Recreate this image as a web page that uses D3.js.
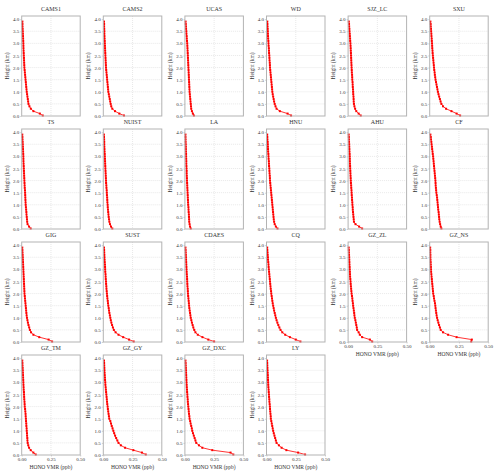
<!DOCTYPE html>
<meta charset="utf-8">
<html>
  <head>
    <style>
      body { margin: 0; background: #fff; }
      text { font-family: "Liberation Serif", "Times New Roman", serif; fill: #333; }
      .grid line { stroke: #d0d0d0; stroke-width: 0.5px; stroke-dasharray: 1,1; }
      .frame { fill: none; stroke: #b3b3b3; stroke-width: 1px; }
      .axis path { display: none; }
      .axis line { stroke: #b3b3b3; stroke-width: 0.6px; }
      .axis text { font-size: 5px; }
    </style>
    <script src="https://d3js.org/d3.v7.min.js"></script>
  </head>
  <body>
    <script>

      var width = 500,
          height = 475;

      // heights of retrieval levels (km)
      var heights = [0.02, 0.1, 0.2, 0.3, 0.4, 0.5, 0.6, 0.7, 0.8, 0.9, 1.0, 1.1, 1.2, 1.3, 1.4, 1.5, 1.6, 1.7, 1.8, 1.9,
                     2.0, 2.1, 2.2, 2.3, 2.4, 2.5, 2.6, 2.7, 2.8, 2.9, 3.0, 3.1, 3.2, 3.3, 3.4, 3.5, 3.6, 3.7, 3.8, 3.9];

      var yTicks = [0.0, 0.5, 1.0, 1.5, 2.0, 2.5, 3.0, 3.5, 4.0],
          xTicks = [0.00, 0.25, 0.50];

      var sites = ["CAMS1", "CAMS2", "UCAS", "WD", "SJZ_LC", "SXU",
                   "TS", "NUIST", "LA", "HNU", "AHU", "CF",
                   "GIG", "SUST", "CDAES", "CQ", "GZ_ZL", "GZ_NS",
                   "GZ_TM", "GZ_GY", "GZ_DXC", "LY"];

      // HONO VMR (ppb) at each height
      var CAMS1 = [0.180, 0.155, 0.100, 0.078, 0.066, 0.058, 0.055, 0.052, 0.049, 0.046, 0.043, 0.041, 0.039, 0.037, 0.035, 0.033, 0.031, 0.029, 0.027, 0.025, 0.023, 0.022, 0.021, 0.020, 0.019, 0.018, 0.017, 0.016, 0.015, 0.0145, 0.014, 0.013, 0.012, 0.011, 0.010, 0.009, 0.008, 0.007, 0.0065, 0.006];
      var CAMS2 = [0.177, 0.137, 0.100, 0.077, 0.068, 0.063, 0.059, 0.055, 0.051, 0.047, 0.043, 0.041, 0.039, 0.037, 0.035, 0.033, 0.031, 0.029, 0.027, 0.025, 0.023, 0.022, 0.021, 0.020, 0.019, 0.018, 0.017, 0.016, 0.015, 0.014, 0.013, 0.012, 0.011, 0.010, 0.009, 0.009, 0.008, 0.007, 0.007, 0.006];
      var UCAS = [0.077, 0.068, 0.060, 0.054, 0.052, 0.050, 0.048, 0.046, 0.044, 0.042, 0.040, 0.039, 0.038, 0.037, 0.036, 0.035, 0.034, 0.033, 0.032, 0.031, 0.030, 0.029, 0.028, 0.027, 0.026, 0.025, 0.024, 0.023, 0.022, 0.021, 0.020, 0.018, 0.016, 0.015, 0.013, 0.012, 0.010, 0.009, 0.007, 0.006];
      var WD = [0.210, 0.180, 0.114, 0.086, 0.077, 0.070, 0.065, 0.061, 0.057, 0.053, 0.050, 0.048, 0.046, 0.044, 0.042, 0.040, 0.038, 0.036, 0.034, 0.032, 0.030, 0.029, 0.028, 0.026, 0.025, 0.024, 0.022, 0.021, 0.020, 0.018, 0.017, 0.016, 0.014, 0.013, 0.012, 0.011, 0.010, 0.009, 0.008, 0.007];
      var SJZ_LC = [0.108, 0.090, 0.070, 0.060, 0.054, 0.050, 0.048, 0.047, 0.046, 0.044, 0.043, 0.042, 0.040, 0.039, 0.038, 0.036, 0.035, 0.034, 0.032, 0.031, 0.030, 0.029, 0.028, 0.027, 0.026, 0.025, 0.024, 0.023, 0.022, 0.021, 0.020, 0.018, 0.017, 0.015, 0.014, 0.012, 0.011, 0.009, 0.008, 0.006];
      var SXU = [0.260, 0.230, 0.186, 0.140, 0.114, 0.100, 0.093, 0.087, 0.081, 0.075, 0.070, 0.066, 0.062, 0.058, 0.054, 0.050, 0.047, 0.044, 0.042, 0.039, 0.037, 0.035, 0.033, 0.031, 0.029, 0.027, 0.025, 0.024, 0.022, 0.021, 0.020, 0.018, 0.017, 0.015, 0.014, 0.012, 0.011, 0.009, 0.008, 0.006];
      var TS = [0.077, 0.063, 0.050, 0.047, 0.045, 0.043, 0.041, 0.040, 0.038, 0.036, 0.034, 0.033, 0.032, 0.031, 0.030, 0.029, 0.028, 0.026, 0.025, 0.024, 0.023, 0.022, 0.021, 0.020, 0.019, 0.018, 0.017, 0.016, 0.015, 0.0145, 0.014, 0.013, 0.012, 0.011, 0.010, 0.009, 0.008, 0.007, 0.006, 0.005];
      var NUIST = [0.077, 0.066, 0.057, 0.052, 0.049, 0.046, 0.044, 0.042, 0.040, 0.038, 0.037, 0.035, 0.034, 0.033, 0.031, 0.030, 0.029, 0.027, 0.026, 0.024, 0.023, 0.022, 0.021, 0.020, 0.019, 0.018, 0.017, 0.016, 0.015, 0.014, 0.013, 0.012, 0.011, 0.010, 0.009, 0.008, 0.008, 0.007, 0.006, 0.005];
      var LA = [0.050, 0.044, 0.040, 0.037, 0.036, 0.035, 0.034, 0.032, 0.031, 0.030, 0.028, 0.027, 0.026, 0.025, 0.024, 0.023, 0.022, 0.021, 0.020, 0.019, 0.018, 0.017, 0.016, 0.015, 0.015, 0.014, 0.013, 0.012, 0.012, 0.011, 0.010, 0.010, 0.009, 0.008, 0.008, 0.007, 0.006, 0.006, 0.005, 0.005];
      var HNU = [0.094, 0.080, 0.070, 0.065, 0.062, 0.060, 0.058, 0.056, 0.054, 0.052, 0.050, 0.048, 0.046, 0.044, 0.042, 0.040, 0.038, 0.036, 0.034, 0.032, 0.030, 0.029, 0.028, 0.026, 0.025, 0.024, 0.022, 0.021, 0.020, 0.018, 0.017, 0.016, 0.014, 0.013, 0.012, 0.011, 0.010, 0.008, 0.007, 0.006];
      var AHU = [0.120, 0.094, 0.063, 0.050, 0.048, 0.046, 0.044, 0.042, 0.040, 0.039, 0.037, 0.036, 0.034, 0.033, 0.031, 0.030, 0.029, 0.027, 0.026, 0.024, 0.023, 0.022, 0.021, 0.020, 0.019, 0.018, 0.017, 0.016, 0.015, 0.0145, 0.014, 0.013, 0.012, 0.011, 0.010, 0.009, 0.008, 0.007, 0.006, 0.005];
      var CF = [0.100, 0.094, 0.089, 0.085, 0.082, 0.080, 0.078, 0.076, 0.073, 0.071, 0.069, 0.067, 0.065, 0.063, 0.060, 0.057, 0.055, 0.053, 0.051, 0.050, 0.049, 0.047, 0.045, 0.043, 0.041, 0.039, 0.037, 0.035, 0.033, 0.031, 0.029, 0.026, 0.024, 0.021, 0.019, 0.016, 0.014, 0.011, 0.009, 0.006];
      var GIG = [0.260, 0.230, 0.150, 0.100, 0.080, 0.070, 0.064, 0.058, 0.053, 0.049, 0.045, 0.042, 0.040, 0.038, 0.036, 0.034, 0.032, 0.030, 0.028, 0.026, 0.024, 0.023, 0.022, 0.021, 0.020, 0.019, 0.018, 0.017, 0.016, 0.015, 0.014, 0.013, 0.012, 0.011, 0.010, 0.009, 0.008, 0.007, 0.006, 0.005];
      var SUST = [0.260, 0.220, 0.170, 0.130, 0.105, 0.090, 0.082, 0.075, 0.069, 0.064, 0.060, 0.056, 0.052, 0.049, 0.046, 0.043, 0.040, 0.038, 0.035, 0.033, 0.031, 0.029, 0.027, 0.026, 0.024, 0.023, 0.021, 0.020, 0.019, 0.017, 0.016, 0.015, 0.014, 0.012, 0.011, 0.010, 0.009, 0.008, 0.007, 0.006];
      var CDAES = [0.250, 0.200, 0.150, 0.110, 0.090, 0.080, 0.072, 0.066, 0.060, 0.055, 0.050, 0.047, 0.044, 0.041, 0.038, 0.036, 0.034, 0.032, 0.030, 0.028, 0.026, 0.025, 0.024, 0.022, 0.021, 0.020, 0.019, 0.018, 0.016, 0.015, 0.014, 0.013, 0.012, 0.011, 0.010, 0.009, 0.008, 0.007, 0.006, 0.005];
      var CQ = [0.290, 0.250, 0.200, 0.160, 0.135, 0.120, 0.110, 0.101, 0.093, 0.086, 0.080, 0.075, 0.070, 0.065, 0.061, 0.057, 0.053, 0.050, 0.047, 0.044, 0.041, 0.039, 0.036, 0.034, 0.032, 0.030, 0.028, 0.026, 0.024, 0.022, 0.020, 0.018, 0.017, 0.015, 0.013, 0.012, 0.010, 0.009, 0.007, 0.006];
      var GZ_ZL = [0.206, 0.186, 0.120, 0.100, 0.090, 0.077, 0.074, 0.070, 0.066, 0.062, 0.057, 0.054, 0.052, 0.049, 0.046, 0.043, 0.041, 0.038, 0.036, 0.033, 0.030, 0.028, 0.026, 0.024, 0.022, 0.021, 0.019, 0.017, 0.016, 0.015, 0.014, 0.013, 0.012, 0.011, 0.010, 0.009, 0.008, 0.007, 0.006, 0.005];
      var GZ_NS = [0.355, 0.360, 0.230, 0.157, 0.114, 0.094, 0.087, 0.080, 0.074, 0.068, 0.063, 0.059, 0.056, 0.053, 0.050, 0.048, 0.045, 0.041, 0.037, 0.034, 0.030, 0.028, 0.026, 0.024, 0.022, 0.020, 0.018, 0.016, 0.014, 0.012, 0.011, 0.010, 0.009, 0.008, 0.007, 0.006, 0.006, 0.005, 0.005, 0.004];
      var GZ_TM = [0.120, 0.100, 0.077, 0.063, 0.056, 0.051, 0.049, 0.048, 0.046, 0.045, 0.043, 0.042, 0.040, 0.039, 0.037, 0.036, 0.034, 0.033, 0.031, 0.029, 0.026, 0.025, 0.024, 0.022, 0.021, 0.020, 0.019, 0.017, 0.016, 0.015, 0.014, 0.013, 0.012, 0.011, 0.010, 0.009, 0.008, 0.007, 0.006, 0.005];
      var GZ_GY = [0.363, 0.330, 0.257, 0.186, 0.150, 0.130, 0.120, 0.110, 0.101, 0.093, 0.086, 0.079, 0.072, 0.066, 0.060, 0.051, 0.048, 0.045, 0.042, 0.039, 0.037, 0.034, 0.032, 0.030, 0.028, 0.026, 0.024, 0.022, 0.020, 0.018, 0.017, 0.015, 0.014, 0.012, 0.011, 0.010, 0.009, 0.008, 0.007, 0.006];
      var GZ_DXC = [0.414, 0.390, 0.234, 0.149, 0.120, 0.097, 0.090, 0.083, 0.076, 0.069, 0.063, 0.059, 0.054, 0.049, 0.045, 0.040, 0.038, 0.035, 0.033, 0.031, 0.029, 0.027, 0.025, 0.024, 0.022, 0.021, 0.019, 0.018, 0.016, 0.015, 0.014, 0.013, 0.012, 0.011, 0.010, 0.009, 0.008, 0.007, 0.006, 0.005];
      var LY = [0.330, 0.270, 0.170, 0.129, 0.106, 0.086, 0.080, 0.074, 0.068, 0.062, 0.057, 0.053, 0.049, 0.045, 0.041, 0.037, 0.036, 0.034, 0.032, 0.030, 0.029, 0.027, 0.025, 0.024, 0.022, 0.021, 0.019, 0.018, 0.016, 0.015, 0.014, 0.013, 0.012, 0.011, 0.010, 0.009, 0.008, 0.007, 0.006, 0.005];

      var profiles = [CAMS1, CAMS2, UCAS, WD, SJZ_LC, SXU, TS, NUIST, LA, HNU, AHU, CF,
                      GIG, SUST, CDAES, CQ, GZ_ZL, GZ_NS, GZ_TM, GZ_GY, GZ_DXC, LY];

      // panel grid
      var ncol = 6,
          left0 = 21.7, top0 = 16,
          colStep = 81.6, rowStep = 113,
          pw = 58.5, ph = 100;

      var x = d3.scaleLinear().domain([0, 0.5]).range([0, pw]);
      var y = d3.scaleLinear().domain([0, 4.13]).range([ph, 0]);

      var svg = d3.select('body').append('svg')
          .attr('width', width)
          .attr('height', height);

      var line = d3.line()
          .x(function(d) { return x(d[0]); })
          .y(function(d) { return y(d[1]); });

      sites.forEach(function(name, i) {
          var r = Math.floor(i / ncol),
              c = i % ncol;
          var g = svg.append("g")
              .attr("transform", "translate(" + (left0 + c * colStep) + "," + (top0 + r * rowStep) + ")");

          // is there a panel below this one?
          var showX = (i + ncol) >= sites.length;

          // grid
          var grid = g.append("g").attr("class", "grid");
          grid.selectAll(".hg").data(yTicks.slice(1, -1)).enter().append("line")
              .attr("x1", 0).attr("x2", pw)
              .attr("y1", function(d) { return y(d); }).attr("y2", function(d) { return y(d); });
          grid.selectAll(".vg").data([0.25]).enter().append("line")
              .attr("y1", 0).attr("y2", ph)
              .attr("x1", function(d) { return x(d); }).attr("x2", function(d) { return x(d); });

          // axes
          g.append("g").attr("class", "axis")
              .call(d3.axisLeft(y).tickValues(yTicks).tickFormat(d3.format(".1f")).tickSize(1.5).tickPadding(1));

          if (showX) {
              g.append("g").attr("class", "axis")
                  .attr("transform", "translate(0," + ph + ")")
                  .call(d3.axisBottom(x).tickValues(xTicks).tickFormat(d3.format(".2f")).tickSize(1.5).tickPadding(1));
              g.append("text")
                  .attr("x", pw / 2).attr("y", ph + 14)
                  .attr("text-anchor", "middle")
                  .style("font-size", "5.5px")
                  .text("HONO VMR (ppb)");
          }

          g.append("text")
              .attr("transform", "translate(-13," + (ph / 2) + ")rotate(-90)")
              .attr("text-anchor", "middle")
              .style("font-size", "5.5px")
              .text("Height (km)");

          // title
          g.append("text")
              .attr("x", pw / 2).attr("y", -5)
              .attr("text-anchor", "middle")
              .style("font-size", "6px")
              .text(name);

          // profile
          var pts = heights.map(function(h, k) { return [profiles[i][k], h]; });
          g.append("path")
              .datum(pts)
              .attr("d", line)
              .attr("fill", "none")
              .attr("stroke", "#ff0000")
              .attr("stroke-width", 0.8);
          g.selectAll(".pt").data(pts).enter().append("rect")
              .attr("x", function(d) { return x(d[0]) - 1; })
              .attr("y", function(d) { return y(d[1]) - 1; })
              .attr("width", 2).attr("height", 2)
              .attr("fill", "#ff0000");

          g.append("rect").attr("class", "frame")
              .attr("width", pw).attr("height", ph);
      });

    </script>
  </body>
</html>
